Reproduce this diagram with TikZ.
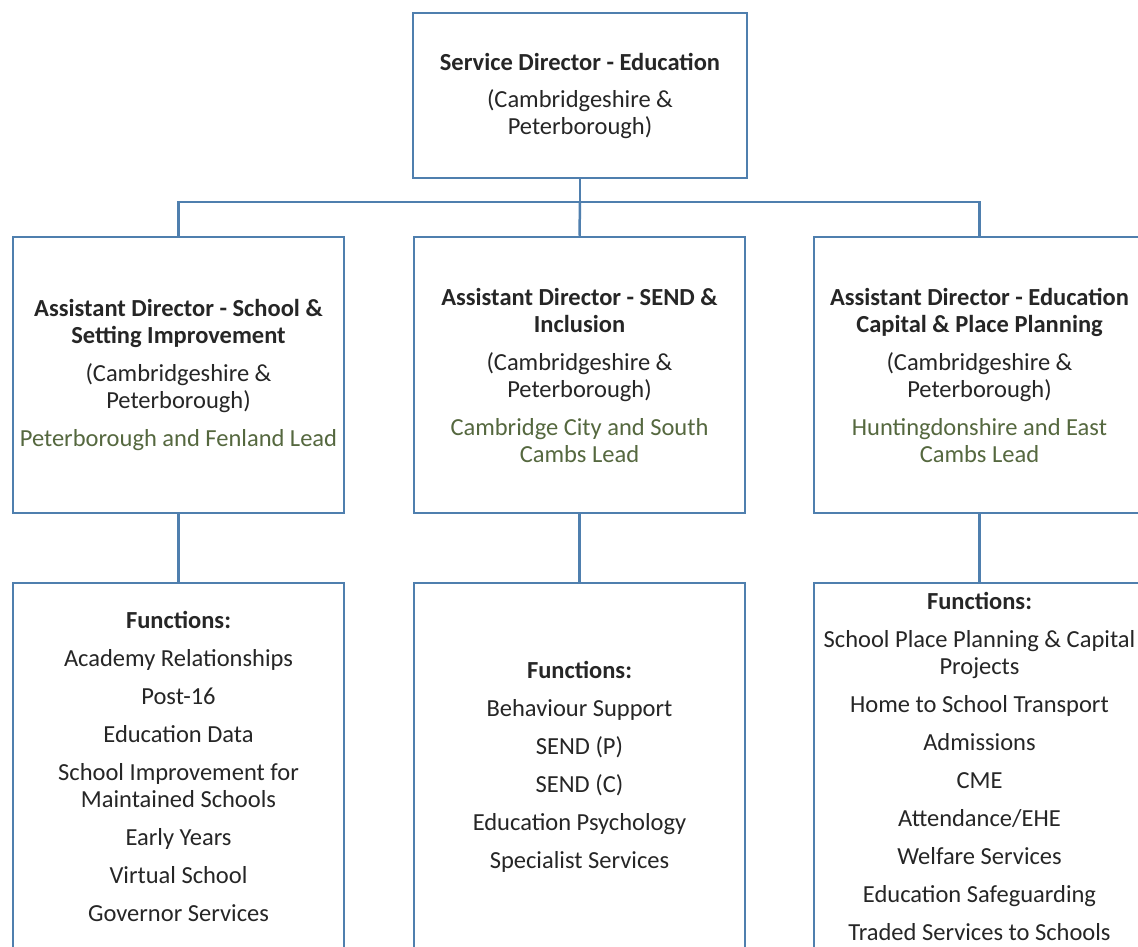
\documentclass[tikz,border=0pt]{standalone}
\usepackage{fontspec}
\setmainfont{Carlito}
\definecolor{boxline}{HTML}{4F7FAE}
\definecolor{txt}{HTML}{262626}
\definecolor{leadgreen}{HTML}{55683F}
\tikzset{
  orgbox/.style={draw=boxline, line width=2.5pt, fill=white, inner sep=0pt,
    align=center, text=txt, font=\fontsize{24.5}{27}\selectfont},
  linkline/.style={draw=boxline, line width=2.5pt},
  adbox/.style={orgbox, minimum width=331pt, minimum height=276pt},
  fnbox/.style={orgbox, minimum width=331pt, minimum height=367pt},
}
\begin{document}
\begin{tikzpicture}[x=1pt,y=-1pt]
\useasboundingbox (0,0) rectangle (1138,946);
\fill[white] (0,0) rectangle (1138,946);
\clip (0,0) rectangle (1138,946);

\node[orgbox, minimum width=334pt, minimum height=165pt] (sd) at (580,95.5)
  {\textbf{Service Director - Education}\\[10pt](Cambridgeshire \&\\Peterborough)};

\node[adbox] (ad1) at (178.5,375)
  {\textbf{Assistant Director - School \&}\\\textbf{Setting Improvement}\\[11pt](Cambridgeshire \&\\Peterborough)\\[11pt]\textcolor{leadgreen}{Peterborough and Fenland Lead}};
\node[adbox] (ad2) at (579.5,375)
  {\textbf{Assistant Director - SEND \&}\\\textbf{Inclusion}\\[11pt](Cambridgeshire \&\\Peterborough)\\[11pt]\textcolor{leadgreen}{Cambridge City and South}\\\textcolor{leadgreen}{Cambs Lead}};
\node[adbox] (ad3) at (979.5,375)
  {\textbf{Assistant Director - Education}\\\textbf{Capital \& Place Planning}\\[11pt](Cambridgeshire \&\\Peterborough)\\[11pt]\textcolor{leadgreen}{Huntingdonshire and East}\\\textcolor{leadgreen}{Cambs Lead}};

\node[fnbox] (fn1) at (178.5,766.5)
  {\textbf{Functions:}\\[11pt]Academy Relationships\\[11pt]Post-16\\[11pt]Education Data\\[11pt]School Improvement for\\Maintained Schools\\[11pt]Early Years\\[11pt]Virtual School\\[11pt]Governor Services};
\node[fnbox] (fn2) at (579.5,766.5)
  {\textbf{Functions:}\\[11pt]Behaviour Support\\[11pt]SEND (P)\\[11pt]SEND (C)\\[11pt]Education Psychology\\[11pt]Specialist Services};
\node[fnbox] (fn3) at (979.5,766.5)
  {\textbf{Functions:}\\[11pt]School Place Planning \& Capital\\Projects\\[11pt]Home to School Transport\\[11pt]Admissions\\[11pt]CME\\[11pt]Attendance/EHE\\[11pt]Welfare Services\\[11pt]Education Safeguarding\\[11pt]Traded Services to Schools};

\coordinate (bus) at (580,202);
\draw[linkline] (sd.south) -- (bus);
\draw[linkline] (bus) -| (ad1.north);
\draw[linkline] (bus) -| (ad3.north);
\draw[linkline] (bus) -- (ad2.north);
\draw[linkline] (ad1.south) -- (fn1.north);
\draw[linkline] (ad2.south) -- (fn2.north);
\draw[linkline] (ad3.south) -- (fn3.north);
\end{tikzpicture}
\end{document}
